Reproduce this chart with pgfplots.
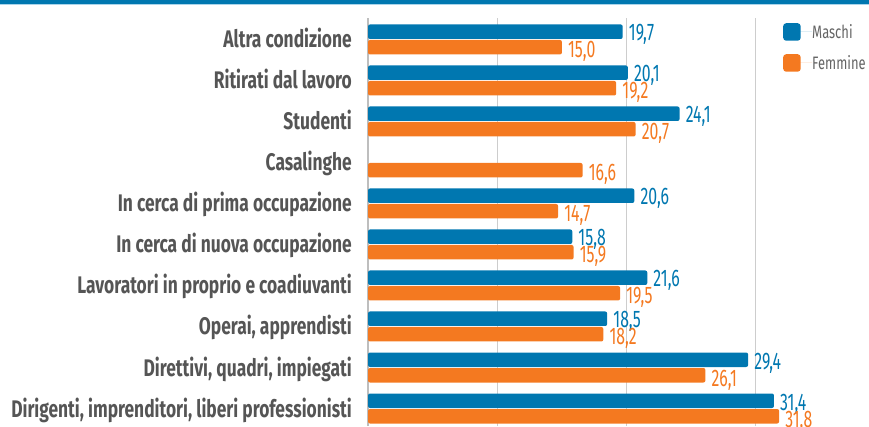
\documentclass[border=0pt]{standalone}
\usepackage{pgfplots}
\pgfplotsset{compat=1.18}
\usepackage{fontspec}
\setmainfont{Fira Sans}
\newfontfamily\labfont{Fira Sans}[FakeStretch=0.725]
\newfontfamily\numfont{Fira Sans}[FakeStretch=0.66]
\newfontfamily\legfont{Fira Sans}[FakeStretch=0.72]
\definecolor{mblue}{RGB}{0,119,176}
\definecolor{forange}{RGB}{244,121,32}
\definecolor{lblue}{RGB}{170,212,234}
\definecolor{labgrey}{RGB}{85,85,85}
\definecolor{leggrey}{RGB}{100,100,100}
\definecolor{gridgrey}{RGB}{205,205,205}
\definecolor{axisgrey}{RGB}{190,190,190}
\begin{document}
\begin{tikzpicture}[x=1pt,y=1pt]
\useasboundingbox (0,0) rectangle (869,426);
\fill[mblue] (0,422) rectangle (869,426);
\fill[lblue] (0,420.5) rectangle (869,422);
\begin{axis}[
  at={(368pt,0pt)}, anchor=south west,
  scale only axis, width=501pt, height=408pt,
  xmin=0, xmax=38.75, ymin=-0.4268, ymax=9.524,
  xbar, point meta=x,
  axis line style={draw=none},
  xtick={10,20,30}, xticklabels={},
  xmajorgrids, grid style={gridgrey, line width=1.2pt},
  extra x ticks={0}, extra x tick labels={},
  extra x tick style={grid style={axisgrey, line width=2pt}},
  ytick={0,...,9},
  yticklabels={{Dirigenti, imprenditori, liberi professionisti}, {Direttivi, quadri, impiegati}, {Operai, apprendisti}, {Lavoratori in proprio e coadiuvanti}, {In cerca di nuova occupazione}, {In cerca di prima occupazione}, {Casalinghe}, {Studenti}, {Ritirati dal lavoro}, {Altra condizione}},
  major tick length=0pt,
  yticklabel style={font=\labfont\bfseries\fontsize{24}{24}\selectfont, color=labgrey, inner sep=0pt, text height=17pt, text depth=0pt, xshift=-16pt},
  clip=false,
  /pgf/number format/assume math mode=true,
  nodes near coords={\pgfmathprintnumber[fixed,fixed zerofill,precision=1,use comma]{\pgfplotspointmeta}},
  every node near coord/.append style={anchor=west, inner sep=0pt, xshift=6pt, text height=16.5pt, text depth=0pt, font=\numfont\fontsize{24}{24}\selectfont},
  legend cell align=left,
  legend style={at={(0.8283,0.9877)}, anchor=north west, draw=none, fill=none, inner sep=0pt, row sep=13.5pt, font=\legfont\fontsize{18}{18}\selectfont, text=leggrey, nodes={inner sep=0pt, text height=12.5pt, text depth=0pt}},
  legend image code/.code={\fill[#1, rounded corners=3pt] (0pt,-8.75pt) rectangle (17.5pt,8.75pt); \path (0pt,0pt) -- (29pt,0pt);},
]
\addplot[fill=mblue, draw=none, bar width=14.5pt, bar shift=7.75pt, rounded corners=2pt,
  every node near coord/.append style={text=mblue, yshift=-1pt}]
  coordinates {(31.4,0) (29.4,1) (18.5,2) (21.6,3) (15.8,4) (20.6,5) (24.1,7) (20.1,8) (19.7,9)};
\addlegendentry{Maschi}
\addplot[fill=forange, draw=none, bar width=14.5pt, bar shift=-7.75pt, rounded corners=2pt,
  every node near coord/.append style={text=forange, yshift=-2.5pt}]
  coordinates {(31.8,0) (26.1,1) (18.2,2) (19.5,3) (15.9,4) (14.7,5) (16.6,6) (20.7,7) (19.2,8) (15.0,9)};
\addlegendentry{Femmine}
\end{axis}
\end{tikzpicture}
\end{document}
